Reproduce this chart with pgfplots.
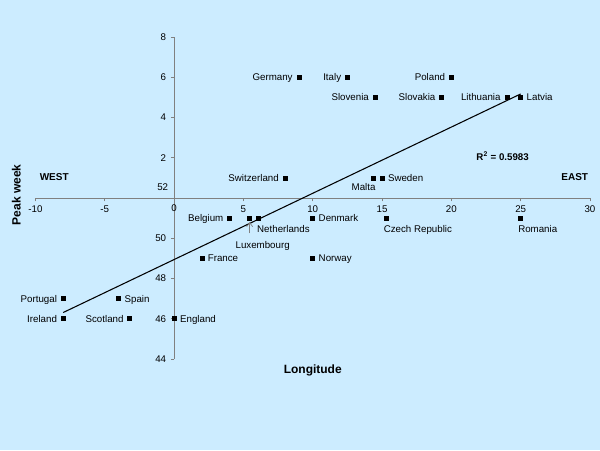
\documentclass[border=0pt]{standalone}
\usepackage{pgfplots}
\pgfplotsset{compat=1.18}
\usepackage{fontspec}
\setmainfont{Liberation Sans}
\usetikzlibrary{arrows.meta}
\definecolor{bg}{HTML}{CCECFF}
\definecolor{axgray}{HTML}{808080}
\tikzset{lbl/.style={font=\fontsize{7.3}{8.5}\selectfont, inner sep=0pt, black}}
\begin{document}
\begin{tikzpicture}
\fill[bg] (-26.625pt,-68.25pt) rectangle (423.375pt,269.25pt);
\begin{axis}[
  at={(0,0)}, anchor=south west,
  scale only axis, width=415.875pt, height=241.5pt,
  xmin=-10, xmax=30, ymin=-8, ymax=8,
  axis lines=middle,
  axis line style={axgray, line width=0.6pt, -},
  xtick={-10,-5,5,10,15,20,25,30},
  xticklabels={-10,-5,5,10,15,20,25,30},
  ytick={-8,-6,-4,-2,2,4,6,8},
  yticklabels={44,46,48,50,2,4,6,8},
  tick style={axgray, line width=0.5pt},
  major tick length=2.5pt,
  tick align=outside,
  tick label style={font=\fontsize{7.3}{8.5}\selectfont, black},
  /pgf/number format/assume math mode=true,
  clip=false,
]
% y values: weeks relative to week 52 (0 = week 52, 1 = week 1, -1 = week 51 ...)
\addplot[black, line width=0.8pt, mark=none] coordinates {(-8,-5.69) (25,5.17)};
\addplot[only marks, mark=square*, mark size=1.5pt, black] coordinates {
 (9.0,6) (12.5,6) (20.0,6)
 (14.5,5) (19.3,5) (24.0,5) (25.0,5)
 (8.0,1) (14.4,1) (15.0,1)
 (4.0,-1) (5.45,-1) (6.1,-1) (10.0,-1) (15.3,-1) (25.0,-1)
 (2.0,-3) (10.0,-3)
 (-8.0,-5) (-4.0,-5)
 (-8.0,-6) (-3.2,-6) (0.0,-6)
};
% left labels
\node[lbl,anchor=mid east,xshift=-4.5pt] at (axis cs:9.0,6) {Germany};
\node[lbl,anchor=mid east,xshift=-4.5pt] at (axis cs:12.5,6) {Italy};
\node[lbl,anchor=mid east,xshift=-4.5pt] at (axis cs:20.0,6) {Poland};
\node[lbl,anchor=mid east,xshift=-4.5pt] at (axis cs:14.5,5) {Slovenia};
\node[lbl,anchor=mid east,xshift=-4.5pt] at (axis cs:19.3,5) {Slovakia};
\node[lbl,anchor=mid east,xshift=-4.5pt] at (axis cs:24.0,5) {Lithuania};
\node[lbl,anchor=mid east,xshift=-4.5pt] at (axis cs:8.0,1) {Switzerland};
\node[lbl,anchor=mid east,xshift=-4.5pt] at (axis cs:4.0,-1) {Belgium};
\node[lbl,anchor=mid east,xshift=-4.5pt] at (axis cs:-8.0,-5) {Portugal};
\node[lbl,anchor=mid east,xshift=-4.5pt] at (axis cs:-8.0,-6) {Ireland};
\node[lbl,anchor=mid east,xshift=-4.5pt] at (axis cs:-3.2,-6) {Scotland};
% right labels
\node[lbl,anchor=mid west,xshift=4.3pt] at (axis cs:25.0,5) {Latvia};
\node[lbl,anchor=mid west,xshift=4.3pt] at (axis cs:15.0,1) {Sweden};
\node[lbl,anchor=mid west,xshift=4.3pt] at (axis cs:10.0,-1) {Denmark};
\node[lbl,anchor=mid west,xshift=4.3pt] at (axis cs:2.0,-3) {France};
\node[lbl,anchor=mid west,xshift=4.3pt] at (axis cs:10.0,-3) {Norway};
\node[lbl,anchor=mid west,xshift=4.3pt] at (axis cs:-4.0,-5) {Spain};
\node[lbl,anchor=mid west,xshift=4.3pt] at (axis cs:0.0,-6) {England};
% below labels
\node[lbl,anchor=mid west,xshift=-1.3pt,yshift=-8pt] at (axis cs:6.1,-1) {Netherlands};
\node[lbl,anchor=mid west,xshift=-2pt,yshift=-8pt] at (axis cs:15.3,-1) {Czech Republic};
\node[lbl,anchor=mid west,xshift=-2pt,yshift=-8pt] at (axis cs:25.0,-1) {Romania};
\node[lbl,anchor=mid east,xshift=1.5pt,yshift=-6.75pt] at (axis cs:14.4,1) {Malta};
\node[lbl,anchor=mid,xshift=9.75pt,yshift=-20.25pt] at (axis cs:5.45,-1) {Luxembourg};
\draw[axgray, line width=0.5pt, -{Straight Barb[length=3pt,width=4.5pt]}] ([yshift=-11.5pt]axis cs:5.45,-1) -- ([yshift=-3pt]axis cs:5.45,-1);
% zero labels
\node[lbl,anchor=north,yshift=-5pt] at (axis cs:0,0) {0};
\node[lbl,anchor=mid east,xshift=-4.3pt] at (axis cs:0,0.56) {52};
% annotations
\node[font=\bfseries\fontsize{7.5}{9}\selectfont,inner sep=0pt] at (axis cs:-8.65,1.04) {WEST};
\node[font=\bfseries\fontsize{7.5}{9}\selectfont,inner sep=0pt] at (axis cs:28.9,1.04) {EAST};
\node[font=\bfseries\fontsize{7.3}{9}\selectfont,inner sep=0pt] at (axis cs:23.7,2.1) {R\textsuperscript{2} = 0.5983};
\node[font=\bfseries\fontsize{9}{11}\selectfont,inner sep=0pt,rotate=90] at (axis cs:-11.39,0.15) {Peak week};
\node[font=\bfseries\fontsize{9}{11}\selectfont,inner sep=0pt] at (axis cs:10.0,-8.56) {Longitude};
\end{axis}
\pgfresetboundingbox
\path (-26.625pt,-68.25pt) rectangle (423.375pt,269.25pt);
\end{tikzpicture}
\end{document}
